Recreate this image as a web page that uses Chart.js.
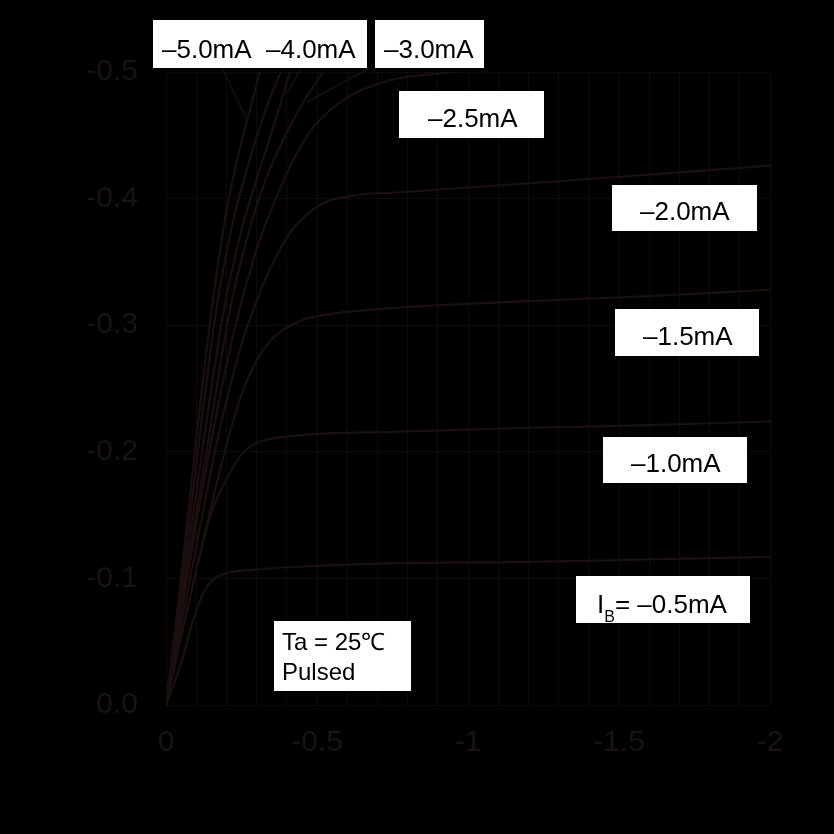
<!DOCTYPE html>
<html>
<head>
<meta charset="utf-8">
<script src="https://cdn.jsdelivr.net/npm/chart.js@4.4.1/dist/chart.umd.min.js"></script>
<style>
  html, body { margin: 0; padding: 0; background: #000; overflow: hidden; }
  #wrap { width: 834px; height: 834px; position: relative; }
</style>
</head>
<body>
<div id="wrap"><canvas id="chart"></canvas></div>
<script>
// IC - VCE characteristics, Ta = 25C, pulsed (PNP, everything negative)

const IB_NAMES = ['-0.5mA', '-1.0mA', '-1.5mA', '-2.0mA', '-2.5mA', '-3.0mA', '-3.5mA', '-4.0mA', '-5.0mA'];

const VCE_05 = [0, -0.046, -0.09, -0.123, -0.156, -0.2, -0.3, -0.42, -0.775, -1.2, -1.6, -2.0];
const IC_05  = [0, -0.030, -0.067, -0.088, -0.099, -0.104, -0.107, -0.109, -0.112, -0.113, -0.115, -0.117];

const VCE_10 = [0, -0.07, -0.146, -0.2, -0.25, -0.3, -0.4, -0.775, -1.2, -1.6, -2.0];
const IC_10  = [0, -0.075, -0.149, -0.178, -0.198, -0.207, -0.212, -0.216, -0.219, -0.221, -0.224];

const VCE_15 = [0, -0.1, -0.2, -0.25, -0.3, -0.35, -0.44, -0.55, -0.775, -1.2, -1.6, -2.0];
const IC_15  = [0, -0.107, -0.205, -0.245, -0.272, -0.289, -0.303, -0.309, -0.314, -0.319, -0.323, -0.328];

const VCE_20 = [0, -0.08, -0.17, -0.25, -0.31, -0.36, -0.42, -0.51, -0.64, -0.775, -1.2, -1.6, -2.0];
const IC_20  = [0, -0.1, -0.209, -0.285, -0.325, -0.352, -0.376, -0.395, -0.403, -0.405, -0.412, -0.419, -0.426];

const VCE_25 = [0, -0.07, -0.15, -0.23, -0.3, -0.355, -0.41, -0.49, -0.6, -0.75, -0.95, -1.1];
const IC_25  = [0, -0.1, -0.209, -0.3, -0.36, -0.395, -0.425, -0.457, -0.48, -0.494, -0.5, -0.505];

const VCE_30 = [0, -0.065, -0.14, -0.21, -0.27, -0.33, -0.4, -0.46, -0.52];
const IC_30  = [0, -0.1, -0.209, -0.31, -0.37, -0.415, -0.452, -0.478, -0.5];

const VCE_35 = [0, -0.06, -0.125, -0.19, -0.25, -0.3, -0.36, -0.41];
const IC_35  = [0, -0.1, -0.209, -0.31, -0.375, -0.415, -0.46, -0.5];

const VCE_40 = [0, -0.055, -0.11, -0.165, -0.22, -0.27, -0.33, -0.38, -0.4];
const IC_40  = [0, -0.1, -0.209, -0.31, -0.38, -0.425, -0.47, -0.5, -0.51];

const VCE_50 = [0, -0.05, -0.1, -0.15, -0.2, -0.25, -0.3, -0.32];
const IC_50  = [0, -0.1, -0.21, -0.31, -0.39, -0.445, -0.49, -0.51];

const X_MIN = -2, X_MAX = 0, X_STEP = 0.1;
const Y_MIN = -0.5, Y_MAX = 0, Y_STEP = 0.1;

// text of the white label boxes
const TOP_LABELS   = ['\u20135.0mA', '\u20134.0mA', '\u20133.0mA'];
const SIDE_LABELS  = ['\u20132.5mA', '\u20132.0mA', '\u20131.5mA', '\u20131.0mA'];
const IB_LABEL     = ['I', 'B', '= \u20130.5mA'];
const COND_LABELS  = ['Ta = 25\u2103', 'Pulsed'];

const FONT = "'Liberation Sans', Arial, sans-serif";
const CURVE_COLOR = '#1c0f0f';
const GRID_COLOR  = '#110a0a';
const TICK_COLOR  = '#1b1212';

const pts = (xs, ys) => xs.map((x, i) => ({ x, y: ys[i] }));
const SERIES = [
  pts(VCE_05, IC_05), pts(VCE_10, IC_10), pts(VCE_15, IC_15), pts(VCE_20, IC_20), pts(VCE_25, IC_25),
  pts(VCE_30, IC_30), pts(VCE_35, IC_35), pts(VCE_40, IC_40), pts(VCE_50, IC_50),
];

const bgPlugin = {
  id: 'bg',
  beforeDraw(chart) {
    const { ctx, width, height } = chart;
    ctx.save();
    ctx.fillStyle = '#000';
    ctx.fillRect(0, 0, width, height);
    ctx.restore();
  }
};

// white boxes with the base-current labels, drawn over the plot
const labelPlugin = {
  id: 'labels',
  afterDraw(chart) {
    const ctx = chart.ctx;
    ctx.save();

    // leader lines from the top labels
    ctx.strokeStyle = CURVE_COLOR;
    ctx.lineWidth = 1.5;
    [[222, 68, 247, 120], [301, 68, 287, 94], [370, 68, 307, 102]].forEach(([x1, y1, x2, y2]) => {
      ctx.beginPath();
      ctx.moveTo(x1, y1);
      ctx.lineTo(x2, y2);
      ctx.stroke();
    });

    ctx.fillStyle = '#fff';
    [
      [153, 20, 214, 48], [375, 20, 109, 48], [399, 91, 145, 47], [612, 185, 145, 46],
      [615, 309, 144, 47], [603, 437, 144, 46], [576, 576, 174, 47], [274, 621, 137, 70],
    ].forEach(([x, y, w, h]) => ctx.fillRect(x, y, w, h));

    ctx.fillStyle = '#000';
    ctx.textBaseline = 'alphabetic';
    ctx.textAlign = 'left';
    ctx.font = `26px ${FONT}`;
    ctx.fillText(TOP_LABELS[0], 162, 58);
    ctx.fillText(TOP_LABELS[1], 266, 58);
    ctx.fillText(TOP_LABELS[2], 384, 58);
    ctx.fillText(SIDE_LABELS[0], 428, 127);
    ctx.fillText(SIDE_LABELS[1], 640, 220);
    ctx.fillText(SIDE_LABELS[2], 643, 345);
    ctx.fillText(SIDE_LABELS[3], 631, 472);

    // I_B = -0.5mA with subscript
    ctx.fillText(IB_LABEL[0], 597, 613);
    const iw = ctx.measureText(IB_LABEL[0]).width;
    ctx.font = `16px ${FONT}`;
    ctx.fillText(IB_LABEL[1], 597 + iw, 622);
    const bw = ctx.measureText(IB_LABEL[1]).width;
    ctx.font = `26px ${FONT}`;
    ctx.fillText(IB_LABEL[2], 597 + iw + bw, 613);

    ctx.font = `24px ${FONT}`;
    ctx.fillText(COND_LABELS[0], 282, 650);
    ctx.fillText(COND_LABELS[1], 282, 680);

    ctx.restore();
  }
};

new Chart(document.getElementById('chart'), {
  type: 'line',
  data: {
    datasets: SERIES.map((data, i) => ({
      label: IB_NAMES[i],
      data,
      borderColor: CURVE_COLOR,
      borderWidth: 2.2,
      pointRadius: 0,
      fill: false,
      cubicInterpolationMode: 'monotone',
    })),
  },
  options: {
    responsive: true,
    maintainAspectRatio: false,
    animation: false,
    layout: { padding: { left: 0, top: 72, right: 64, bottom: 0 } },
    plugins: { legend: { display: false }, tooltip: { enabled: false } },
    scales: {
      x: {
        type: 'linear',
        min: X_MIN, max: X_MAX,
        reverse: true,
        grid: { color: GRID_COLOR, drawTicks: false },
        border: { display: false },
        ticks: {
          stepSize: X_STEP,
          autoSkip: false,
          maxRotation: 0,
          padding: 20,
          color: TICK_COLOR,
          font: { family: FONT, size: 30 },
          callback: v => Math.abs(v * 2 - Math.round(v * 2)) < 1e-6 ? String(+v.toFixed(1)) : '',
        },
        afterFit: s => { s.height = 834 - 705; },
      },
      y: {
        type: 'linear',
        min: Y_MIN, max: Y_MAX,
        reverse: true,
        grid: { color: GRID_COLOR, drawTicks: false },
        border: { display: false },
        ticks: {
          stepSize: Y_STEP,
          padding: 28,
          color: TICK_COLOR,
          font: { family: FONT, size: 30 },
          callback: v => v.toFixed(1),
        },
        afterFit: s => { s.width = 166; },
      },
    },
  },
  plugins: [bgPlugin, labelPlugin],
});
</script>
</body>
</html>
